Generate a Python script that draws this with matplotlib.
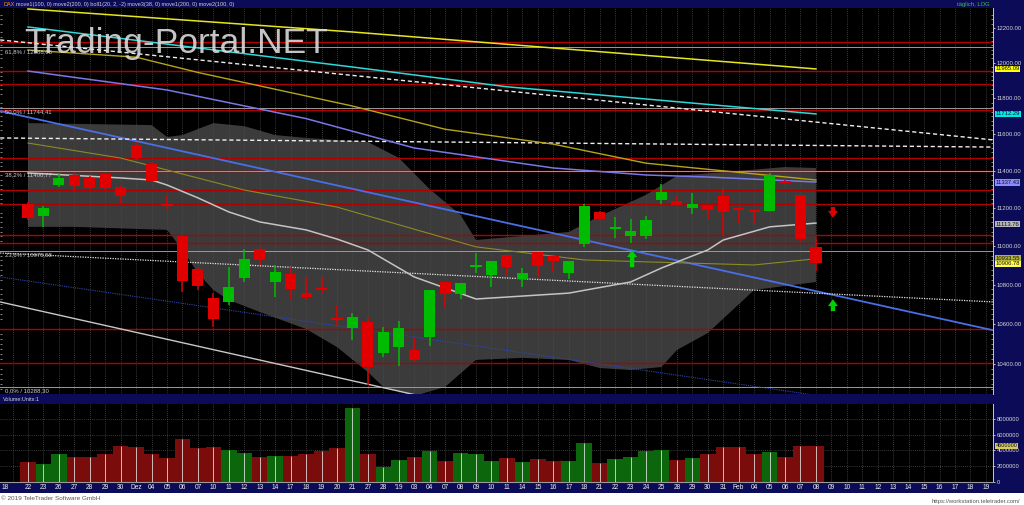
import numpy as np
import matplotlib.pyplot as plt
from matplotlib.patches import Rectangle
from matplotlib.ticker import NullFormatter

plt.rcParams["font.family"] = ["Liberation Sans", "DejaVu Sans"]

# --- data -------------------------------------------------------------------
# trading days, index 0 = 22 Nov 2018 ... index 51 = 08 Feb 2019
opens = [11222, 11157, 11323, 11377, 11361, 11383, 11312, 11540, 11436, 11222,
         11052, 10880, 10731, 10711, 10833, 10984, 10813, 10854, 10756, 10782,
         10630, 10579, 10610, 10454, 10484, 10469, 10534, 10813, 10751, 10890,
         10849, 10953, 10828, 10969, 10948, 10860, 11010, 11179, 11089, 11052,
         11052, 11243, 11238, 11200, 11216, 11264, 11200, 11189, 11184, 11345,
         11270, 10995]
highs = [11232, 11211, 11388, 11388, 11372, 11388, 11323, 11557, 11447, 11270,
         11057, 10890, 10756, 10890, 10984, 10989, 10901, 10890, 10839, 10839,
         10695, 10655, 10635, 10584, 10615, 10529, 10772, 10813, 10808, 10963,
         10922, 10953, 10885, 10969, 10948, 10922, 11222, 11184, 11152, 11141,
         11157, 11329, 11270, 11280, 11216, 11302, 11200, 11195, 11388, 11350,
         11270, 11047]
lows = [11136, 11100, 11312, 11291, 11296, 11296, 11227, 11458, 11339, 11195,
        10762, 10772, 10584, 10696, 10813, 10901, 10736, 10721, 10721, 10751,
        10589, 10519, 10297, 10435, 10390, 10415, 10489, 10680, 10726, 10860,
        10787, 10844, 10787, 10839, 10865, 10828, 10995, 11136, 11041, 11015,
        11036, 11222, 11211, 11168, 11141, 11052, 11120, 11115, 11184, 11329,
        11026, 10870]
closes = [11147, 11200, 11361, 11317, 11307, 11307, 11264, 11469, 11345, 11211,
          10818, 10792, 10625, 10787, 10932, 10927, 10865, 10777, 10736, 10772,
          10620, 10635, 10385, 10559, 10579, 10420, 10772, 10751, 10808, 10901,
          10922, 10890, 10860, 10896, 10922, 10922, 11211, 11141, 11094, 11078,
          11136, 11286, 11216, 11222, 11189, 11179, 11189, 11179, 11377, 11334,
          11036, 10911]
volume_mio = [2.45, 2.3, 3.5, 3.2, 3.1, 3.5, 4.6, 4.5, 3.5, 3.0,
              5.5, 4.3, 4.5, 4.1, 3.7, 3.2, 3.3, 3.3, 3.6, 3.9,
              4.3, 9.5, 3.6, 1.9, 2.8, 3.1, 3.9, 2.7, 3.7, 3.6,
              2.7, 3.0, 2.5, 2.9, 2.7, 2.7, 5.0, 2.4, 2.9, 3.2,
              3.9, 4.1, 2.8, 3.0, 3.5, 4.4, 4.4, 3.5, 3.8, 3.1,
              4.6, 4.6]

date_labels = ["18", "22", "23", "26", "27", "28", "29", "30", "Dez", "04", "05",
               "06", "07", "10", "11", "12", "13", "14", "17", "18", "19", "20",
               "21", "27", "28", "'19", "03", "04", "07", "08", "09", "10", "11",
               "14", "15", "16", "17", "18", "21", "22", "23", "24", "25", "28",
               "29", "30", "31", "Feb", "04", "05", "06", "07", "08", "09", "10",
               "11", "12", "13", "14", "15", "16", "17", "18", "19"]

# moving averages: (day index, value)
ma_yellow_x = [0, 21, 51]
ma_yellow_y = [12311, 12177, 11965]
ma_cyan_x = [0, 21, 31, 51]
ma_cyan_y = [12206, 11976, 11864, 11712]
ma_gold_x = [0, 7, 11, 21, 27, 34, 40, 51]
ma_gold_y = [12073, 12032, 11945, 11756, 11627, 11545, 11441, 11350]
ma_violet_x = [0, 9, 18, 25, 34, 40, 44, 51]
ma_violet_y = [11953, 11846, 11686, 11524, 11415, 11377, 11366, 11339]
ma38_x = [0, 6, 9, 14, 20, 29, 36, 40, 47, 51]
ma38_y = [11551, 11469, 11404, 11296, 11205, 10995, 10927, 10917, 10901, 10933]

boll_mid_x = [0, 6, 8, 9, 11, 13, 15, 18, 20, 22, 25, 29, 35, 39, 41, 44, 45, 48, 51]
boll_mid_y = [11388, 11361, 11350, 11323, 11254, 11179, 11126, 11084, 11036, 10979,
              10839, 10726, 10756, 10813, 10885, 10979, 11031, 11100, 11120]
boll_up_x = [0, 8, 9, 10, 12, 14, 16, 18, 22, 24, 26, 28, 29, 35, 37, 40, 42, 49, 51]
boll_up_y = [11661, 11650, 11584, 11595, 11661, 11644, 11595, 11579, 11557, 11470,
             11301, 11163, 11031, 11073, 11157, 11270, 11372, 11420, 11415]
boll_lo_x = [0, 3, 9, 10, 11, 12, 13, 15, 18, 20, 22, 23, 25, 27, 29, 32, 35, 37,
             39, 41, 42, 44, 47, 51]
boll_lo_y = [11100, 11100, 11084, 10979, 10859, 10772, 10721, 10660, 10574, 10484,
             10360, 10287, 10243, 10287, 10420, 10430, 10420, 10380, 10370, 10385,
             10469, 10554, 10772, 10813]

# drawn trend lines: (start index, end index), (start value, end value)
trend_blue = ([-1.8, 62.4], [11728, 10569])
trend_navy = ([-1.8, 51.3], [10839, 10243])
trend_white = ([-1.8, 25.4], [10711, 10243])
trend_dotted = ([-1.8, 62.5], [10963, 10711])
trend_dashed = ([-1.8, 62.5], [12131, 11568])
trend_dashed_flat = ([-1.8, 62.4], [11579, 11529])

red_levels = [12119, 11953, 11880, 11735, 11469, 11400, 11296, 11221, 11057,
              11015, 10574, 10405]
fib_levels = [12088.05, 11744.41, 11400.77, 10975.58, 10288.30]
fib_names = ["61,8%", "50,0%", "38,2%", "23,6%", "0,0%"]

price_ticks = [12200, 12000, 11800, 11600, 11400, 11200, 11000, 10800, 10600, 10400]
vol_ticks = [0, 2, 4, 6, 8]

tag_values = [11965.09, 11712.29, 11337.43, 11113.76, 10933.55, 10906.78]
tag_colors = ["#ffff00", "#00e8e8", "#8c8cff", "#b8b8b8", "#b4b43c", "#ffff50"]

arrow_x = [39.1, 52.1, 52.1]
arrow_tail = [10890, 10665, 11205]
arrow_head = [10978, 10725, 11148]
arrow_colors = ["#00d000", "#00d000", "#e00000"]

# --- figure -----------------------------------------------------------------
W, H = 1024, 505
NAVY = "#0b0b58"


def frect(x0, y0, x1, y1):
    return [x0 / W, 1 - y1 / H, (x1 - x0) / W, (y1 - y0) / H]


fig = plt.figure(figsize=(W / 100, H / 100), dpi=100, facecolor=NAVY)
ax = fig.add_axes(frect(0, 8, 993, 394), facecolor="black")
axv = fig.add_axes(frect(0, 404, 993, 481.5), facecolor="black", sharex=ax)

ax.set_yscale("log")
ax.set_xlim(-1.81, 62.46)
ax.set_ylim(10252.6, 12316.5)

days = np.arange(-1, 63)
ax.vlines(days, 10000, 13000, colors="#4c4c4c", linestyles=(0, (1, 1.5)),
          lw=0.6, zorder=2)

# bollinger band
ax.fill(np.r_[boll_up_x, boll_lo_x[::-1]], np.r_[boll_up_y, boll_lo_y[::-1]],
        color="#3b3b3b", lw=0, zorder=1)

for p in red_levels:
    ax.axhline(p, color="#b00000", lw=1.0, zorder=3)
tr = ax.get_yaxis_transform()
for p, name in zip(fib_levels, fib_names):
    ax.axhline(p, color="#9a9a9a", lw=0.7, zorder=3)
    label = f"{name} / " + f"{p:.2f}".replace(".", ",")
    ax.text(0.005, p * 0.9993, label, transform=tr, fontsize=4.3,
            color="#cfcfcf", va="top", ha="left", zorder=8)

ax.plot(*trend_blue, color="#4a6ee6", lw=1.3, zorder=4)
ax.plot(*trend_navy, color="#2c46b0", lw=0.8, ls=(0, (1, 1)), zorder=4)
ax.plot(*trend_white, color="#c8c8c8", lw=1.0, zorder=4)
ax.plot(*trend_dotted, color="#e6e6e6", lw=0.9, ls=(0, (1, 1)), zorder=4)
ax.plot(*trend_dashed, color="#eeeeee", lw=1.0, ls=(0, (3, 2)), zorder=4)
ax.plot(*trend_dashed_flat, color="#eeeeee", lw=1.0, ls=(0, (3, 2)), zorder=4)

ax.plot(ma_yellow_x, ma_yellow_y, color="#e6e620", lw=1.1, zorder=4)
ax.plot(ma_cyan_x, ma_cyan_y, color="#30d8d8", lw=1.1, zorder=4)
ax.plot(ma_gold_x, ma_gold_y, color="#b8a418", lw=1.0, zorder=4)
ax.plot(ma_violet_x, ma_violet_y, color="#7878e8", lw=1.1, zorder=4)
ax.plot(ma38_x, ma38_y, color="#8c8a24", lw=0.8, zorder=4)
ax.plot(boll_mid_x, boll_mid_y, color="#c4c4c4", lw=1.1, zorder=4)

# candles
o, h, l, c = (np.array(a, dtype=float) for a in (opens, highs, lows, closes))
idx = np.arange(len(o))
up = c >= o
col = np.where(up, "#00bc00", "#e00000")
ax.vlines(idx, l, h, colors=col, lw=1.1, zorder=5)
lo = np.minimum(o, c)
hi = np.maximum(o, c)
ax.bar(idx, np.maximum(hi - lo, lo * 0.0008), bottom=lo, width=0.72,
       color=col, lw=0, zorder=6)

for x, t, hd, cl in zip(arrow_x, arrow_tail, arrow_head, arrow_colors):
    ax.annotate("", xy=(x, hd), xytext=(x, t), zorder=7,
                arrowprops=dict(arrowstyle="simple,head_width=0.8,head_length=0.55,tail_width=0.35",
                                color=cl, lw=0, mutation_scale=9,
                                shrinkA=0, shrinkB=0))

# price axis on the right
ax.yaxis.tick_right()
ax.set_yticks(price_ticks)
ax.set_yticklabels([f"{p:.2f}" for p in price_ticks])
ax.set_yticks(np.arange(10275, 12300, 25), minor=True)
ax.yaxis.set_minor_formatter(NullFormatter())
ax.tick_params(axis="y", which="major", labelsize=4.3, colors="#d6d6d6",
               length=1.5, width=0.6, pad=1.2)
ax.tick_params(axis="y", which="minor", length=1.2, width=0.5, color="#bbbbbb",
               left=True, right=True, direction="in")
ax.tick_params(axis="x", bottom=False, labelbottom=False)
for s in ["top", "left", "bottom"]:
    ax.spines[s].set_visible(False)
ax.spines["right"].set_color("#c8c8c8")
ax.spines["right"].set_linewidth(0.7)

for v, tc in zip(tag_values, tag_colors):
    ax.text(1.0025, v, f"{v:.2f}", transform=tr, fontsize=4.2, color="#101010",
            va="center", ha="left", clip_on=False, zorder=9,
            bbox=dict(boxstyle="square,pad=0.12", fc=tc, ec="none"))

fig.text(176 / W, 1 - 43 / H, "Trading-Portal.NET", fontsize=25.5,
         color="#dadada", alpha=0.9, ha="center", va="center", zorder=10)

# volume panel
vol = np.array(volume_mio)
vcol = np.where(up, "#0c660c", "#7a0c0c")
axv.vlines(days, 0, 12, colors="#4c4c4c", linestyles=(0, (1, 1.5)), lw=0.6, zorder=1)
for t in vol_ticks[1:]:
    axv.axhline(t, color="#4c4c4c", ls=(0, (1, 1.5)), lw=0.6, zorder=1)
axv.bar(idx, vol, width=1.0, color=vcol, lw=0, zorder=2)
axv.vlines(idx, 0, vol, colors="#e8e8e8", lw=0.7, alpha=0.8, zorder=3)
axv.set_ylim(0, 9.97)
axv.yaxis.tick_right()
axv.set_yticks(vol_ticks)
axv.set_yticklabels([f"{int(t * 1e6)}" for t in vol_ticks])
axv.tick_params(axis="y", labelsize=4.2, colors="#d6d6d6", length=1.5, width=0.6, pad=1.2)
tick_pos = np.r_[-1.45, np.arange(0, 63)]
axv.set_xticks(tick_pos)
axv.set_xticklabels(date_labels)
axv.tick_params(axis="x", labelsize=4.8, colors="#eeeeee", length=0, pad=1.8)
for s in ["top", "left"]:
    axv.spines[s].set_visible(False)
axv.spines["right"].set_color("#c8c8c8")
axv.spines["right"].set_linewidth(0.7)
axv.spines["bottom"].set_color("#9a9a9a")
axv.spines["bottom"].set_linewidth(0.8)
axv.text(1.0025, vol[-1], f"{int(vol[-1] * 1e6)}", transform=axv.get_yaxis_transform(),
         fontsize=4.0, color="#101010", va="center", ha="left", clip_on=False,
         bbox=dict(boxstyle="square,pad=0.1", fc="#d8c860", ec="none"))

# header bars and footer
fig.text(3 / W, 1 - 4.2 / H, "DAX", fontsize=4.0, color="#ff9c00", va="center")
fig.text(16 / W, 1 - 4.2 / H,
         "move1(100, 0) move2(200, 0) boll1(20, 2, -2) move3(38, 0) move1(200, 0) move2(100, 0)",
         fontsize=4.0, color="#d0d0d0", va="center")
fig.text(990 / W, 1 - 4.2 / H, "täglich, LOG", fontsize=4.2, color="#3cc83c",
         va="center", ha="right")
fig.text(3 / W, 1 - 399.5 / H, "Volume:Units:1", fontsize=4.0, color="#d0d0d0",
         va="center")
fig.add_artist(Rectangle((0, 0), 1, 12 / H, transform=fig.transFigure,
                         fc="white", ec="none", zorder=5))
fig.text(1 / W, 6.5 / H, "© 2019 TeleTrader Software GmbH", fontsize=4.6,
         color="#555555", va="center", zorder=6)
fig.text(1020 / W, 4 / H, "https://workstation.teletrader.com/", fontsize=4.2,
         color="#555555", va="center", ha="right", zorder=6)

fig.savefig("out.png", dpi=100, facecolor=NAVY)
